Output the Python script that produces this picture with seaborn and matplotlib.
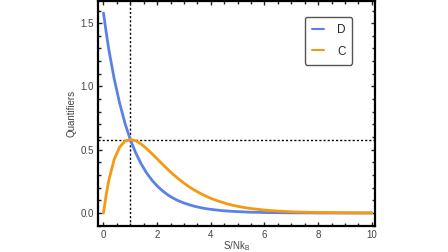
import matplotlib
matplotlib.use("Agg")
import matplotlib.pyplot as plt
import seaborn as sns
import pandas as pd
from matplotlib.ticker import MultipleLocator

x_vals = [0, 0.1, 0.2, 0.4, 0.6, 0.8, 1.0, 1.2, 1.4, 1.6, 1.8, 2.0, 2.2, 2.4, 2.6, 2.8,
          3.0, 3.2, 3.4, 3.6, 3.8, 4.0, 4.2, 4.4, 4.6, 4.8, 5.0, 5.2, 5.4, 5.6, 5.8,
          6.0, 6.2, 6.4, 6.6, 6.8, 7.0, 7.2, 7.4, 7.6, 7.8, 8.0, 8.2, 8.4, 8.6, 8.8,
          9.0, 9.2, 9.4, 9.6, 9.8, 10.0]
d_vals = [1.58, 1.43, 1.29, 1.06, 0.87, 0.71, 0.58, 0.476, 0.39, 0.319, 0.261, 0.214,
          0.175, 0.143, 0.117, 0.096, 0.079, 0.065, 0.053, 0.043, 0.035, 0.029, 0.024,
          0.019, 0.016, 0.013, 0.011, 0.009, 0.007, 0.006, 0.005, 0.004, 0.003, 0.003,
          0.002, 0.002, 0.001, 0.001, 0.001, 0.001, 0.001, 0.0, 0.0, 0.0, 0.0, 0.0,
          0.0, 0.0, 0.0, 0.0, 0.0, 0.0]
c_vals = [0.0, 0.143, 0.259, 0.424, 0.520, 0.568, 0.581, 0.571, 0.546, 0.510, 0.470,
          0.428, 0.385, 0.344, 0.305, 0.269, 0.236, 0.206, 0.180, 0.156, 0.135, 0.116,
          0.100, 0.086, 0.073, 0.062, 0.053, 0.045, 0.038, 0.033, 0.028, 0.023, 0.020,
          0.017, 0.014, 0.012, 0.010, 0.008, 0.007, 0.006, 0.005, 0.004, 0.004, 0.003,
          0.003, 0.002, 0.002, 0.002, 0.001, 0.001, 0.001, 0.001]
x_mark = 1.0
y_mark = 0.58

sns.set_theme(style="ticks")
plt.rcParams['font.family'] = ['Liberation Sans', 'DejaVu Sans']

df = pd.DataFrame({
    "x": x_vals * 2,
    "y": d_vals + c_vals,
    "series": ["D"] * len(x_vals) + ["C"] * len(x_vals),
})

fig = plt.figure(figsize=(4.48, 2.52), dpi=100)
ax = fig.add_axes([0.219, 0.103, 0.618, 0.893])

sns.lineplot(data=df, x="x", y="y", hue="series",
             palette={"D": "#5a82e6", "C": "#f59a10"}, linewidth=2.0, ax=ax,
             legend=True)

ax.axvline(x_mark, color="black", linestyle=(0, (1.5, 1.5)), linewidth=1.0, zorder=0)
ax.axhline(y_mark, color="black", linestyle=(0, (1.5, 1.5)), linewidth=1.0, zorder=0)

ax.set_xlim(-0.2, 10.12)
ax.set_ylim(-0.103, 1.675)
ax.xaxis.set_major_locator(MultipleLocator(2))
ax.xaxis.set_minor_locator(MultipleLocator(0.5))
ax.yaxis.set_major_locator(MultipleLocator(0.5))
ax.yaxis.set_minor_locator(MultipleLocator(0.1))
ax.tick_params(which="both", direction="in", top=True, right=True, labelsize=7,
               colors="#222222", labelcolor="#444444", pad=3)
ax.tick_params(which="major", length=3, width=1.0)
ax.tick_params(which="minor", length=2, width=1.0)
for s in ax.spines.values():
    s.set_linewidth(1.6)
    s.set_color("black")

ax.set_xlabel("S/Nk$_\\mathregular{B}$", fontsize=7, color="#444444", labelpad=-1)
ax.set_ylabel("Quantifiers", fontsize=7, color="#444444", labelpad=3)

leg = ax.legend(loc="upper right", bbox_to_anchor=(0.94, 0.955), fontsize=8.5,
                handlelength=1.0, handletextpad=1.1, borderpad=0.6, labelspacing=0.8,
                fancybox=True, frameon=True)
leg.get_frame().set_edgecolor("#555555")
leg.get_frame().set_linewidth(1.0)
leg.get_frame().set_alpha(1)
for line in leg.get_lines():
    line.set_linewidth(1.5)

fig.savefig("out.png", dpi=100)
